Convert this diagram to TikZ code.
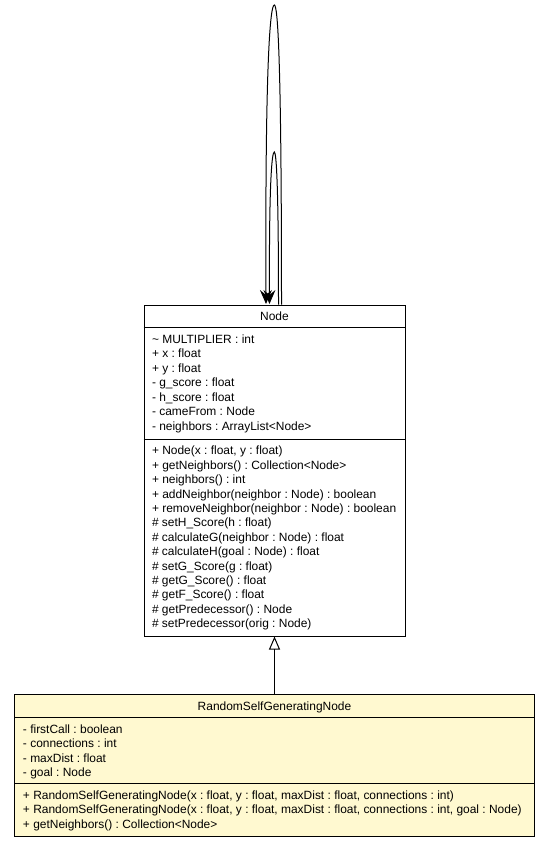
\documentclass[tikz,border=0pt]{standalone}
\usepackage{fontspec}
\setmainfont{Liberation Sans}
\usetikzlibrary{arrows.meta,calc}
\frenchspacing

\definecolor{umlyellow}{RGB}{255,249,208}
\tikzset{
  classbox/.style={draw,line width=1bp,inner sep=0pt},
  member/.style={anchor=base west,inner sep=0pt,font=\fontsize{12}{14}\selectfont},
  classname/.style={anchor=base,inner sep=0pt,font=\fontsize{12}{14}\selectfont},
}

\begin{document}
\begin{tikzpicture}[x=1bp,y=-1bp,>={Stealth[length=14bp,width=12bp,inset=5bp]},line width=1bp]
	\useasboundingbox (0,0) rectangle (549,847);
	% classes
	\node[classbox,minimum width=261bp,minimum height=331bp] (node) at (274.5,470.5) {};
	\node[classbox,fill=umlyellow,minimum width=519bp,minimum height=142bp] (rsgn) at (274.5,765) {};
	\node[classname] (node title) at ($(node.north)+(0,15.5)$) {Node};
	\node[classname] (rsgn title) at ($(rsgn.north)+(0,16.5)$) {RandomSelfGeneratingNode};
	\draw ($(node.north west)+(0,23)$) -- ($(node.north east)+(0,23)$);
	\draw ($(node.north west)+(0,135)$) -- ($(node.north east)+(0,135)$);
	\draw ($(rsgn.north west)+(0,24)$) -- ($(rsgn.north east)+(0,24)$);
	\draw ($(rsgn.north west)+(0,90)$) -- ($(rsgn.north east)+(0,90)$);
	% members of Node
	\foreach \m [count=\i] in {\textasciitilde{} MULTIPLIER : int, + x : float, + y : float,
		- g\_score : float, - h\_score : float, - cameFrom : Node, - neighbors : ArrayList<Node>}
		\node[member] (node attr\i) at ($(node.north west)+(8,{24+14.5*\i})$) {\m};
	\foreach \m [count=\i] in {{+ Node(x : float, y : float)}, + getNeighbors() : Collection<Node>,
		+ neighbors() : int, + addNeighbor(neighbor : Node) : boolean,
		+ removeNeighbor(neighbor : Node) : boolean, \# setH\_Score(h : float),
		\# calculateG(neighbor : Node) : float, \# calculateH(goal : Node) : float,
		\# setG\_Score(g : float), \# getG\_Score() : float, \# getF\_Score() : float,
		\# getPredecessor() : Node, \# setPredecessor(orig : Node)}
		\node[member] (node op\i) at ($(node.north west)+(8,{136+14.4*\i})$) {\m};
	% members of RandomSelfGeneratingNode
	\foreach \m [count=\i] in {- firstCall : boolean, - connections : int, - maxDist : float, - goal : Node}
		\node[member] (rsgn attr\i) at ($(rsgn.north west)+(8,{25+14.5*\i})$) {\m};
	\foreach \m [count=\i] in {{+ RandomSelfGeneratingNode(x : float, y : float, maxDist : float, connections : int)},
		{+ RandomSelfGeneratingNode(x : float, y : float, maxDist : float, connections : int, goal : Node)},
		+ getNeighbors() : Collection<Node>}
		\node[member] (rsgn op\i) at ($(rsgn.north west)+(8,{91+14.5*\i})$) {\m};
	% relations
	\coordinate (outer top) at (274.3,5);
	\coordinate (inner top) at (274.3,152);
	\draw[->,shorten >=0.5bp] ([xshift=7bp]node.north) .. controls +(0,-245) and +(3.5,0) .. (outer top)
		.. controls +(-4,0) and +(-1,-245) .. ([xshift=-8.5bp]node.north);
	\draw[->,shorten >=0.5bp] ([xshift=4bp]node.north) .. controls +(0,-120) and +(2,0) .. (inner top)
		.. controls +(-2.5,0) and +(-0.5,-120) .. ([xshift=-5bp]node.north);
	\draw[-{Triangle[open,length=13bp,width=11bp]}] (rsgn.north) -- (node.south);
\end{tikzpicture}
\end{document}
